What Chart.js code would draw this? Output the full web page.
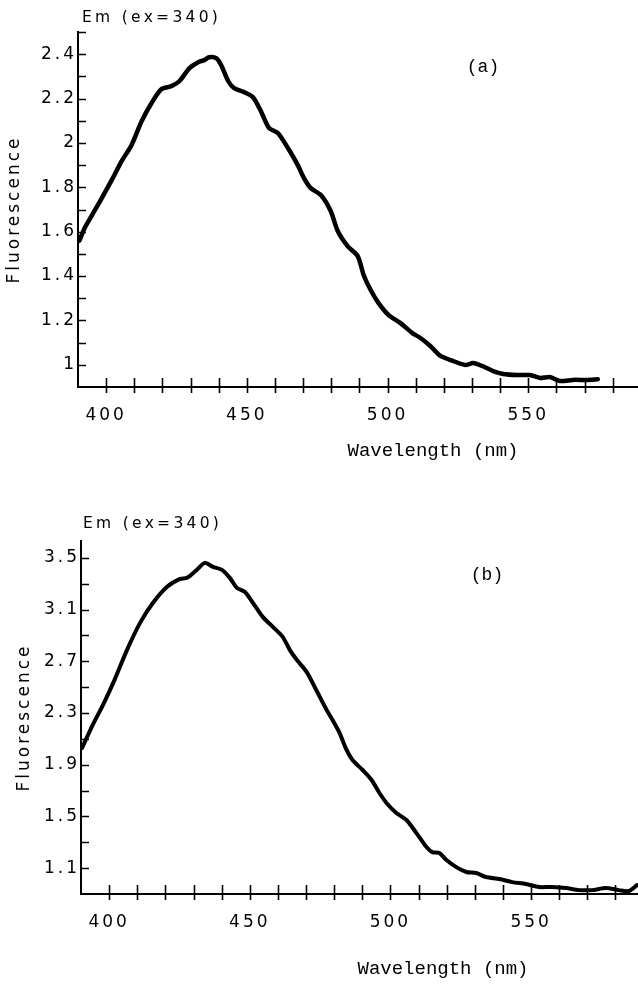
<!DOCTYPE html>
<html>
<head>
<meta charset="utf-8">
<title>Em (ex=340)</title>
<script src="https://cdn.jsdelivr.net/npm/chart.js@4.4.1/dist/chart.umd.min.js"></script>
<style>
  html, body { margin: 0; padding: 0; background: #fff; }
  body { width: 638px; height: 985px; position: relative; overflow: hidden; }
  canvas { position: absolute; left: 0; }
  #chartA { top: 0; }
  #chartB { top: 480px; }
  .lbl { position: absolute; color: #000; white-space: nowrap; line-height: 1; transform: translateY(-50%); }
  .em { font-family: "DejaVu Sans", sans-serif; font-size: 15.5px; letter-spacing: 3.3px; }
  .mono { font-family: "Liberation Mono", "DejaVu Sans Mono", monospace; transform: translate(-50%, -50%); }
  .panel { font-size: 18px; }
  .xt { font-size: 19px; }
</style>
</head>
<body>
<canvas id="chartA" width="638" height="480"></canvas>
<canvas id="chartB" width="638" height="505"></canvas>

<div class="lbl em" style="left:82px; top:18px;">Em (ex=340)</div>
<div class="lbl mono panel" style="left:483px; top:67px;">(a)</div>
<div class="lbl mono xt" style="left:433px; top:451px;">Wavelength (nm)</div>

<div class="lbl em" style="left:83px; top:524px;">Em (ex=340)</div>
<div class="lbl mono panel" style="left:487px; top:575px;">(b)</div>
<div class="lbl mono xt" style="left:443px; top:969px;">Wavelength (nm)</div>

<script>
// ---- Spectrum (a) ----
const aWavelength = [
  390.5, 392.5, 395, 398.4, 402.5, 405.5, 409, 412.6, 416.1, 419.6,
  423.2, 426, 429.6, 432.7, 434.9, 436.6, 439.1, 440.9, 443.4, 445.5,
  449, 452.2, 455, 457.9, 461.1, 464.6, 468.1, 470.3, 472.7, 476.3,
  479.8, 482.3, 485.8, 489.4, 491.5, 494, 496.8, 500.4, 504.6, 508.8,
  511.7, 515.2, 518.8, 523.4, 527.6, 530.4, 533.6, 537.5, 541.1, 546,
  550.6, 554.2, 557.7, 561.2, 565.8, 570.8, 574.7
];
const aFluorescence = [
  1.56, 1.62, 1.675, 1.75, 1.845, 1.918, 1.99, 2.098, 2.179, 2.242,
  2.256, 2.278, 2.337, 2.364, 2.373, 2.386, 2.382, 2.35, 2.278, 2.247,
  2.229, 2.206, 2.143, 2.067, 2.044, 1.977, 1.9, 1.841, 1.796, 1.765,
  1.693, 1.603, 1.535, 1.49, 1.405, 1.337, 1.278, 1.224, 1.188, 1.143,
  1.121, 1.085, 1.04, 1.017, 0.999, 1.008, 0.995, 0.972, 0.959, 0.954,
  0.954, 0.941, 0.945, 0.927, 0.932, 0.932, 0.935
];

// ---- Spectrum (b) ----
const bWavelength = [
  390.4, 394, 398, 402, 406.4, 411, 415.6, 420.6, 425.2, 427.7,
  431.2, 434, 436.9, 440.1, 442.9, 445.4, 448.2, 451.1, 454.6, 458.2,
  461.7, 464.2, 466.7, 470.2, 473.8, 477.3, 479.4, 481.9, 484.4, 486.5,
  490.1, 493.3, 496.1, 498.6, 502.1, 505.7, 509.2, 512.8, 514.9, 517.4,
  519.9, 523.4, 527, 530.5, 534, 538.7, 543.3, 548.2, 552.8, 557.4,
  562.4, 567, 571.6, 576.6, 581.2, 584.8, 587.6
];
const bFluorescence = [
  2.03, 2.2, 2.37, 2.56, 2.79, 2.997, 3.152, 3.276, 3.337, 3.345,
  3.407, 3.461, 3.43, 3.407, 3.345, 3.268, 3.237, 3.152, 3.043, 2.966,
  2.889, 2.788, 2.711, 2.618, 2.47, 2.324, 2.246, 2.146, 2.014, 1.937,
  1.859, 1.782, 1.681, 1.604, 1.526, 1.472, 1.372, 1.263, 1.224, 1.217,
  1.163, 1.108, 1.07, 1.062, 1.031, 1.016, 0.992, 0.977, 0.954, 0.954,
  0.946, 0.93, 0.93, 0.946, 0.93, 0.923, 0.969
];

// ---- Axis ticks ----
const xMajorTicks = [400, 450, 500, 550];
const xMinorTicks = [410, 420, 430, 440, 460, 470, 480, 490, 510, 520, 530, 540, 560, 570, 580];
const aYMajorTicks = [1, 1.2, 1.4, 1.6, 1.8, 2, 2.2, 2.4];
const aYMinorTicks = [1.1, 1.3, 1.5, 1.7, 1.9, 2.1, 2.3, 2.5];
const bYMajorTicks = [1.1, 1.5, 1.9, 2.3, 2.7, 3.1, 3.5];
const bYMinorTicks = [1.3, 1.7, 2.1, 2.5, 2.9, 3.3];

const SANS = '"DejaVu Sans", sans-serif';
const SPACING = '3px';

const isIn = (list, v) => list.some(m => Math.abs(m - v) < 1e-6);

// Plotter-style lettering: wide spacing on all canvas text
const spacedText = {
  id: 'spacedText',
  beforeUpdate(chart) { chart.ctx.letterSpacing = SPACING; },
  beforeDraw(chart) { chart.ctx.letterSpacing = SPACING; }
};

// Tick marks: x ticks cross the axis line, y ticks point into the plot
const axisMarks = {
  id: 'axisMarks',
  afterDraw(chart, args, opts) {
    const { ctx, chartArea } = chart;
    const xs = chart.scales.x, ys = chart.scales.y;
    ctx.save();
    ctx.strokeStyle = '#000';
    ctx.lineWidth = 1.6;
    ctx.beginPath();
    xs.ticks.forEach(t => {
      const px = Math.round(xs.getPixelForValue(t.value)) + 0.5;
      ctx.moveTo(px, chartArea.bottom - opts.up);
      ctx.lineTo(px, chartArea.bottom + opts.down);
    });
    ys.ticks.forEach(t => {
      const py = Math.round(ys.getPixelForValue(t.value)) + 0.5;
      ctx.moveTo(chartArea.left, py);
      ctx.lineTo(chartArea.left + opts.inward, py);
    });
    ctx.stroke();
    ctx.restore();
  }
};

function buildChart(id, wl, fl, cfg) {
  const points = wl.map((w, i) => ({ x: w, y: fl[i] }));
  const xTicks = [...xMajorTicks, ...xMinorTicks].sort((a, b) => a - b);
  const yTicks = [...cfg.yMajor, ...cfg.yMinor].sort((a, b) => a - b);
  return new Chart(document.getElementById(id), {
    type: 'line',
    data: {
      datasets: [{
        data: points,
        borderColor: '#000',
        borderWidth: cfg.lineWidth,
        borderCapStyle: 'round',
        borderJoinStyle: 'round',
        pointRadius: 0,
        tension: 0.25,
        fill: false
      }]
    },
    options: {
      responsive: false,
      animation: false,
      devicePixelRatio: 1,
      layout: { padding: { top: cfg.top, left: 0, right: 0, bottom: 0 } },
      plugins: {
        legend: { display: false },
        tooltip: { enabled: false },
        axisMarks: { up: 9, down: 6, inward: 8 }
      },
      scales: {
        x: {
          type: 'linear',
          min: 390,
          max: cfg.xMax,
          afterBuildTicks: s => { s.ticks = xTicks.map(v => ({ value: v })); },
          afterFit: s => { s.height = cfg.xHeight; },
          grid: { display: false, drawTicks: false },
          border: { display: true, color: '#000', width: 2 },
          ticks: {
            padding: 18,
            color: '#000',
            font: { family: SANS, size: 17 },
            maxRotation: 0,
            autoSkip: false,
            callback: v => isIn(xMajorTicks, v) ? String(v) : ''
          }
        },
        y: {
          type: 'linear',
          min: 0.9,
          max: cfg.yMax,
          afterBuildTicks: s => { s.ticks = yTicks.map(v => ({ value: v })); },
          afterFit: s => { s.width = cfg.yWidth; },
          grid: { display: false, drawTicks: false },
          border: { display: true, color: '#000', width: 2 },
          title: {
            display: true,
            text: 'Fluorescence',
            color: '#000',
            font: { family: SANS, size: 17 },
            padding: { top: cfg.titlePad, bottom: 0 }
          },
          ticks: {
            padding: 1,
            color: '#000',
            font: { family: SANS, size: 17 },
            autoSkip: false,
            callback: v => isIn(cfg.yMajor, v) ? String(v) : ''
          }
        }
      }
    },
    plugins: [spacedText, axisMarks]
  });
}

buildChart('chartA', aWavelength, aFluorescence, {
  top: 32, xHeight: 93, yWidth: 78, xMax: 589, yMax: 2.5,
  yMajor: aYMajorTicks, yMinor: aYMinorTicks, titlePad: 4, lineWidth: 4.5
});
buildChart('chartB', bWavelength, bFluorescence, {
  top: 61, xHeight: 91, yWidth: 81, xMax: 588, yMax: 3.63,
  yMajor: bYMajorTicks, yMinor: bYMinorTicks, titlePad: 14, lineWidth: 4
});
</script>
</body>
</html>
